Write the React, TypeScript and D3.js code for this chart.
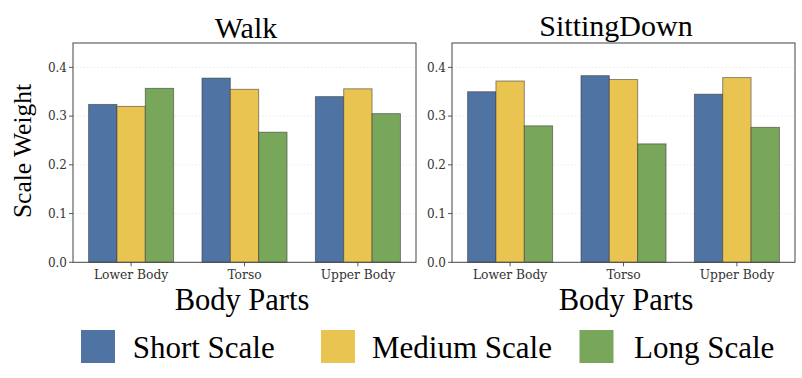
import React from "react";
import * as d3 from "d3";

const categories = ["Lower Body", "Torso", "Upper Body"];
const seriesNames = ["Short Scale", "Medium Scale", "Long Scale"];
const colors = ["#4f73a3", "#e9c451", "#78a65a"];
const walkShort = [0.324, 0.378, 0.340];
const walkMedium = [0.320, 0.355, 0.356];
const walkLong = [0.357, 0.267, 0.305];
const sitShort = [0.350, 0.383, 0.345];
const sitMedium = [0.372, 0.375, 0.379];
const sitLong = [0.280, 0.243, 0.277];
const yTicks = [0.0, 0.1, 0.2, 0.3, 0.4];

const panels = [
  { title: "Walk", series: [walkShort, walkMedium, walkLong], x0: 73, x1: 416, titleX: 246, titleY: 38, labelX: 242 },
  { title: "SittingDown", series: [sitShort, sitMedium, sitLong], x0: 452, x1: 795, titleX: 616, titleY: 36, labelX: 626 },
];

const TOP = 43;
const BOTTOM = 262.3;
const SERIF = "'Liberation Serif', 'Times New Roman', serif";
const TICKFONT = "'DejaVu Serif', serif";

function Panel({ p }: { p: typeof panels[0] }) {
  const y = d3.scaleLinear().domain([0, 0.45]).range([BOTTOM, TOP]);
  const x = d3.scaleLinear().domain([-0.5125, 2.5125]).range([p.x0, p.x1]);
  const bw = 0.25;
  const offsets = [-0.25, 0, 0.25];
  return (
    <g>
      {yTicks.slice(1).map((t) => (
        <line key={"g" + t} x1={p.x0} x2={p.x1} y1={y(t)} y2={y(t)} stroke="#e2e2e2" strokeWidth={0.7} strokeDasharray="1.5,2" />
      ))}
      {p.series.map((vals, si) =>
        vals.map((v, ci) => {
          const cx = ci + offsets[si];
          const xl = x(cx - bw / 2);
          const xr = x(cx + bw / 2);
          return (
            <rect key={si + "-" + ci} x={xl} y={y(v)} width={xr - xl} height={y(0) - y(v)} fill={colors[si]} stroke="#333" strokeOpacity={0.6} strokeWidth={0.9} />
          );
        })
      )}
      <rect x={p.x0} y={TOP} width={p.x1 - p.x0} height={BOTTOM - TOP} fill="none" stroke="#444" strokeWidth={1} />
      {yTicks.map((t) => (
        <g key={"t" + t}>
          <line x1={p.x0 - 4} x2={p.x0} y1={y(t)} y2={y(t)} stroke="#444" strokeWidth={0.9} />
          <text x={p.x0 - 6} y={y(t)} dy="0.36em" textAnchor="end" fontFamily={TICKFONT} fontSize={12} fill="#333">
            {t.toFixed(1)}
          </text>
        </g>
      ))}
      {categories.map((c, i) => (
        <g key={c}>
          <line x1={x(i)} x2={x(i)} y1={BOTTOM} y2={BOTTOM + 4} stroke="#444" strokeWidth={0.9} />
          <text x={x(i)} y={278.5} textAnchor="middle" fontFamily={TICKFONT} fontSize={12.3} fill="#333">
            {c}
          </text>
        </g>
      ))}
      <text x={p.titleX} y={p.titleY} textAnchor="middle" fontFamily={SERIF} fontSize={30} fill="#000">
        {p.title}
      </text>
      <text x={p.labelX} y={310} textAnchor="middle" fontFamily={SERIF} fontSize={30.5} fill="#000">
        Body Parts
      </text>
    </g>
  );
}

export default function App() {
  const legendSq = [81, 321, 579.5];
  const legendTx = [132.7, 372, 634];
  return (
    <div style={{ position: "absolute", left: 0, top: 0 }}>
      <svg width={802} height={378} style={{ display: "block", background: "#fff" }}>
        <rect width={802} height={378} fill="#fff" />
        {panels.map((p) => (
          <Panel key={p.title} p={p} />
        ))}
        <text transform="translate(31,151) rotate(-90)" textAnchor="middle" fontFamily={SERIF} fontSize={25.5} fill="#000">
          Scale Weight
        </text>
        {seriesNames.map((n, i) => (
          <g key={n}>
            <rect x={legendSq[i]} y={330} width={34} height={33} fill={colors[i]} />
            <text x={legendTx[i]} y={357.7} fontFamily={SERIF} fontSize={31} fill="#000">
              {n}
            </text>
          </g>
        ))}
      </svg>
    </div>
  );
}
